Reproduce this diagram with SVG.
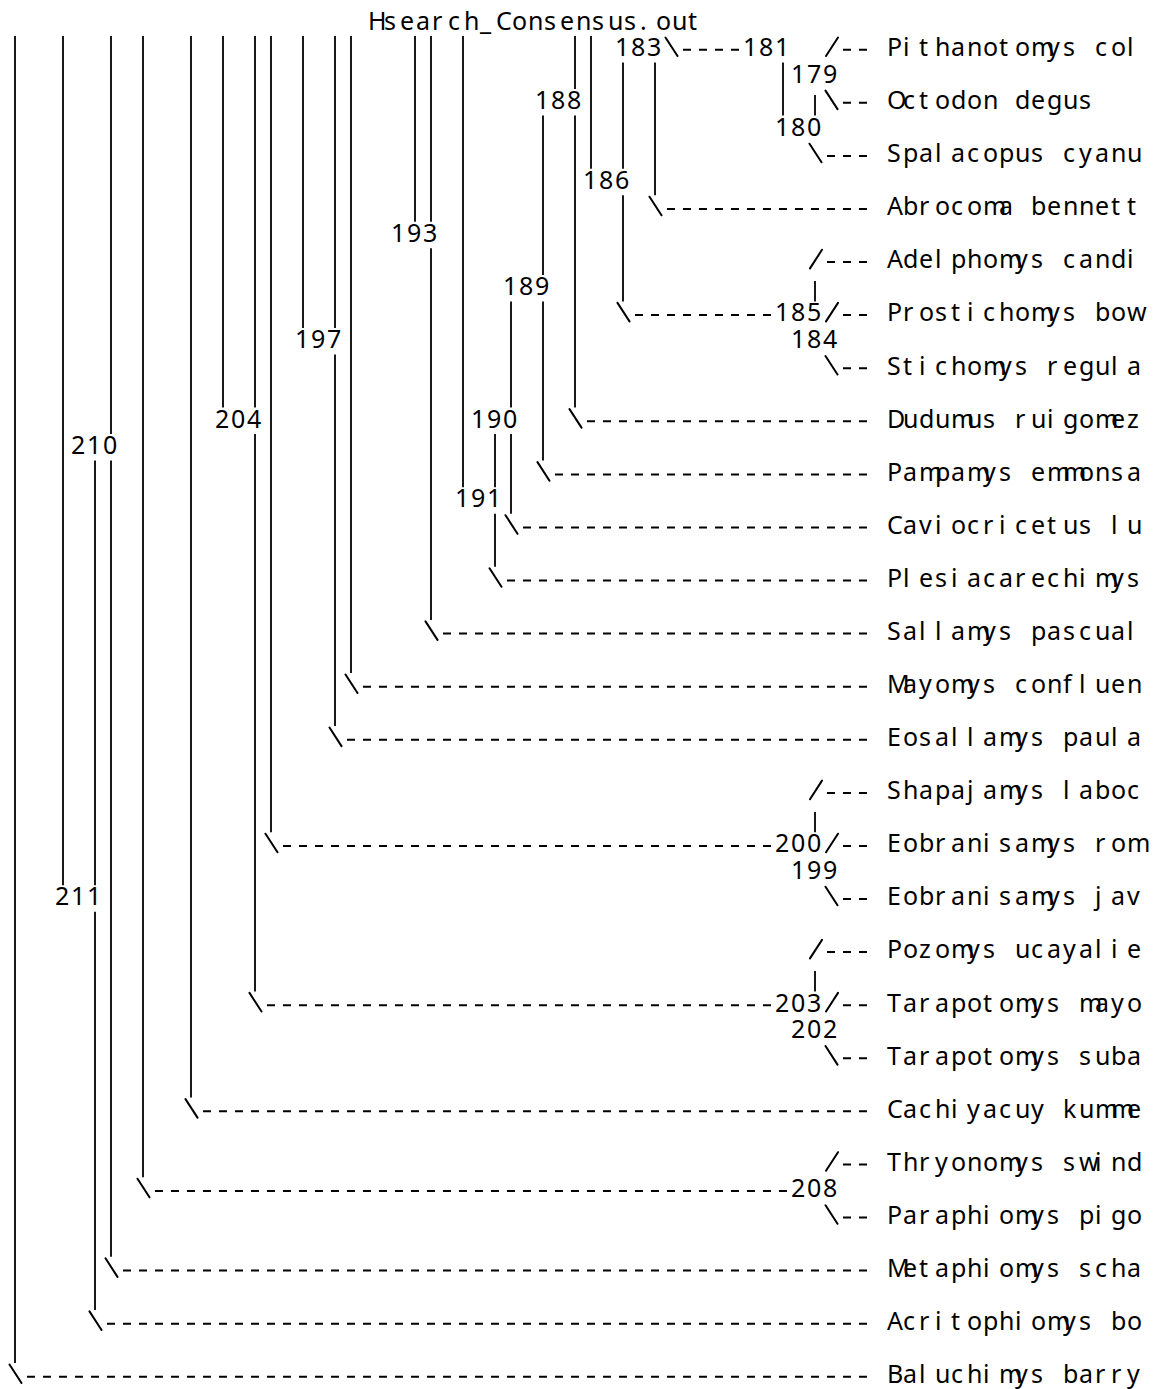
<svg xmlns="http://www.w3.org/2000/svg" width="1155" height="1389" viewBox="0 0 1155 1389">
<style>
.t{font-family:"Noto Sans","DejaVu Sans",sans-serif;font-size:25px;fill:#000;font-variant-ligatures:none;font-kerning:none}
.v{stroke:#000;stroke-width:1.8;fill:none}
.d{stroke:#000;stroke-width:2;stroke-dasharray:8 8;fill:none}
.s{stroke:#000;stroke-width:2;fill:none;stroke-linecap:round}
</style>
<rect width="1155" height="1389" fill="#fff"/>
<g id="title"><text class="t" x="368 384 400 416 432 448 464 480 496 512 528 544 560 576 592 608 624 640 656 672 688" y="29.5">Hsearch_Consensus.out</text></g>
<g id="connectors">
<path class="v" d="M15 36V1363 M63 36V885.3 M95 460.6V885.3 M95 911.8V1309.9 M111 36V434.1 M111 460.6V1256.8 M143 36V1177.2 M191 36V1097.6 M223 36V407.6 M255 36V407.6 M255 434.1V991.4 M271 36V832.2 M303 36V327.9 M335 36V327.9 M335 354.5V726 M351 36V673 M415 36V221.8 M431 36V221.8 M431 248.3V619.9 M463 36V487.2 M495 434.1V487.2 M495 513.7V566.8 M511 301.4V407.6 M511 434.1V513.7 M543 115.6V274.9 M543 301.4V460.6 M575 36V89.1 M575 115.6V407.6 M591 36V168.7 M623 62.5V168.7 M623 195.2V301.4 M655 62.5V195.2 M783 62.5V115.6 M815 95V115.6 M815 281V301.4 M815 812V832.2 M815 971V991.4"/>
<path class="d" d="M683 49.7H739 M843 49.7H867 M843 102.8H867 M827 155.9H867 M667 209H867 M827 262.1H867 M635 315.1H771 M843 315.1H867 M843 368.2H867 M587 421.3H867 M555 474.4H867 M523 527.5H867 M507 580.5H867 M443 633.6H867 M363 686.7H867 M347 739.8H867 M827 792.9H867 M283 845.9H771 M843 845.9H867 M843 899H867 M827 952.1H867 M267 1005.2H771 M843 1005.2H867 M843 1058.3H867 M203 1111.3H867 M843 1164.4H867 M155 1191H787 M843 1217.5H867 M123 1270.6H867 M107 1323.7H867 M27 1376.7H867"/>
<path class="s" d="M665.5 37.5L677.5 56 M825.5 90.6L837.5 109.1 M809.5 143.7L821.5 162.2 M649.5 196.7L661.5 215.3 M617.5 302.9L629.5 321.4 M825.5 356L837.5 374.5 M569.5 409.1L581.5 427.6 M537.5 462.1L549.5 480.7 M505.5 515.2L517.5 533.8 M489.5 568.3L501.5 586.8 M425.5 621.4L437.5 639.9 M345.5 674.5L357.5 693 M329.5 727.5L341.5 746.1 M265.5 833.7L277.5 852.2 M825.5 886.8L837.5 905.3 M249.5 992.9L261.5 1011.5 M825.5 1046L837.5 1064.6 M185.5 1099.1L197.5 1117.6 M137.5 1178.7L149.5 1197.3 M825.5 1205.3L837.5 1223.8 M105.5 1258.3L117.5 1276.9 M89.5 1311.4L101.5 1330 M9.5 1364.5L21.5 1383"/>
<path class="s" d="M826 56L838 37.5 M810 268.4L822 249.8 M826 321.4L838 302.9 M810 799.2L822 780.6 M826 852.2L838 833.7 M810 958.4L822 939.9 M826 1011.5L838 992.9 M826 1170.7L838 1152.2"/>
</g>
<g id="n181"><text class="t" x="743 759 775" y="56">181</text></g>
<g id="n183"><text class="t" x="615 631 647" y="56">183</text></g>
<g id="n179"><text class="t" x="791 807 823" y="82.6">179</text></g>
<g id="n188"><text class="t" x="535 551 567" y="109.1">188</text></g>
<g id="n180"><text class="t" x="775 791 807" y="135.7">180</text></g>
<g id="n186"><text class="t" x="583 599 615" y="188.7">186</text></g>
<g id="n193"><text class="t" x="391 407 423" y="241.8">193</text></g>
<g id="n189"><text class="t" x="503 519 535" y="294.9">189</text></g>
<g id="n185"><text class="t" x="775 791 807" y="321.4">185</text></g>
<g id="n197"><text class="t" x="295 311 327" y="348">197</text></g>
<g id="n184"><text class="t" x="791 807 823" y="348">184</text></g>
<g id="n204"><text class="t" x="215 231 247" y="427.6">204</text></g>
<g id="n190"><text class="t" x="471 487 503" y="427.6">190</text></g>
<g id="n210"><text class="t" x="71 87 103" y="454.1">210</text></g>
<g id="n191"><text class="t" x="455 471 487" y="507.2">191</text></g>
<g id="n200"><text class="t" x="775 791 807" y="852.2">200</text></g>
<g id="n199"><text class="t" x="791 807 823" y="878.8">199</text></g>
<g id="n211"><text class="t" x="55 71 87" y="905.3">211</text></g>
<g id="n203"><text class="t" x="775 791 807" y="1011.5">203</text></g>
<g id="n202"><text class="t" x="791 807 823" y="1038">202</text></g>
<g id="n208"><text class="t" x="791 807 823" y="1197.3">208</text></g>
<g id="t01"><text class="t" x="887 903 919 935 951 967 983 999 1015 1031 1047 1063 1079 1095 1111 1127" y="56">Pithanotomys col</text></g>
<g id="t02"><text class="t" x="887 903 919 935 951 967 983 999 1015 1031 1047 1063 1079 1095 1111 1127" y="109.1">Octodon degus</text></g>
<g id="t03"><text class="t" x="887 903 919 935 951 967 983 999 1015 1031 1047 1063 1079 1095 1111 1127" y="162.2">Spalacopus cyanu</text></g>
<g id="t04"><text class="t" x="887 903 919 935 951 967 983 999 1015 1031 1047 1063 1079 1095 1111 1127" y="215.3">Abrocoma bennett</text></g>
<g id="t05"><text class="t" x="887 903 919 935 951 967 983 999 1015 1031 1047 1063 1079 1095 1111 1127" y="268.4">Adelphomys candi</text></g>
<g id="t06"><text class="t" x="887 903 919 935 951 967 983 999 1015 1031 1047 1063 1079 1095 1111 1127" y="321.4">Prostichomys bow</text></g>
<g id="t07"><text class="t" x="887 903 919 935 951 967 983 999 1015 1031 1047 1063 1079 1095 1111 1127" y="374.5">Stichomys regula</text></g>
<g id="t08"><text class="t" x="887 903 919 935 951 967 983 999 1015 1031 1047 1063 1079 1095 1111 1127" y="427.6">Dudumus ruigomez</text></g>
<g id="t09"><text class="t" x="887 903 919 935 951 967 983 999 1015 1031 1047 1063 1079 1095 1111 1127" y="480.7">Pampamys emmonsa</text></g>
<g id="t10"><text class="t" x="887 903 919 935 951 967 983 999 1015 1031 1047 1063 1079 1095 1111 1127" y="533.8">Caviocricetus lu</text></g>
<g id="t11"><text class="t" x="887 903 919 935 951 967 983 999 1015 1031 1047 1063 1079 1095 1111 1127" y="586.8">Plesiacarechimys</text></g>
<g id="t12"><text class="t" x="887 903 919 935 951 967 983 999 1015 1031 1047 1063 1079 1095 1111 1127" y="639.9">Sallamys pascual</text></g>
<g id="t13"><text class="t" x="887 903 919 935 951 967 983 999 1015 1031 1047 1063 1079 1095 1111 1127" y="693">Mayomys confluen</text></g>
<g id="t14"><text class="t" x="887 903 919 935 951 967 983 999 1015 1031 1047 1063 1079 1095 1111 1127" y="746.1">Eosallamys paula</text></g>
<g id="t15"><text class="t" x="887 903 919 935 951 967 983 999 1015 1031 1047 1063 1079 1095 1111 1127" y="799.2">Shapajamys laboc</text></g>
<g id="t16"><text class="t" x="887 903 919 935 951 967 983 999 1015 1031 1047 1063 1079 1095 1111 1127" y="852.2">Eobranisamys rom</text></g>
<g id="t17"><text class="t" x="887 903 919 935 951 967 983 999 1015 1031 1047 1063 1079 1095 1111 1127" y="905.3">Eobranisamys jav</text></g>
<g id="t18"><text class="t" x="887 903 919 935 951 967 983 999 1015 1031 1047 1063 1079 1095 1111 1127" y="958.4">Pozomys ucayalie</text></g>
<g id="t19"><text class="t" x="887 903 919 935 951 967 983 999 1015 1031 1047 1063 1079 1095 1111 1127" y="1011.5">Tarapotomys mayo</text></g>
<g id="t20"><text class="t" x="887 903 919 935 951 967 983 999 1015 1031 1047 1063 1079 1095 1111 1127" y="1064.6">Tarapotomys suba</text></g>
<g id="t21"><text class="t" x="887 903 919 935 951 967 983 999 1015 1031 1047 1063 1079 1095 1111 1127" y="1117.6">Cachiyacuy kumme</text></g>
<g id="t22"><text class="t" x="887 903 919 935 951 967 983 999 1015 1031 1047 1063 1079 1095 1111 1127" y="1170.7">Thryonomys swind</text></g>
<g id="t23"><text class="t" x="887 903 919 935 951 967 983 999 1015 1031 1047 1063 1079 1095 1111 1127" y="1223.8">Paraphiomys pigo</text></g>
<g id="t24"><text class="t" x="887 903 919 935 951 967 983 999 1015 1031 1047 1063 1079 1095 1111 1127" y="1276.9">Metaphiomys scha</text></g>
<g id="t25"><text class="t" x="887 903 919 935 951 967 983 999 1015 1031 1047 1063 1079 1095 1111 1127" y="1330">Acritophiomys bo</text></g>
<g id="t26"><text class="t" x="887 903 919 935 951 967 983 999 1015 1031 1047 1063 1079 1095 1111 1127" y="1383">Baluchimys barry</text></g>
</svg>
